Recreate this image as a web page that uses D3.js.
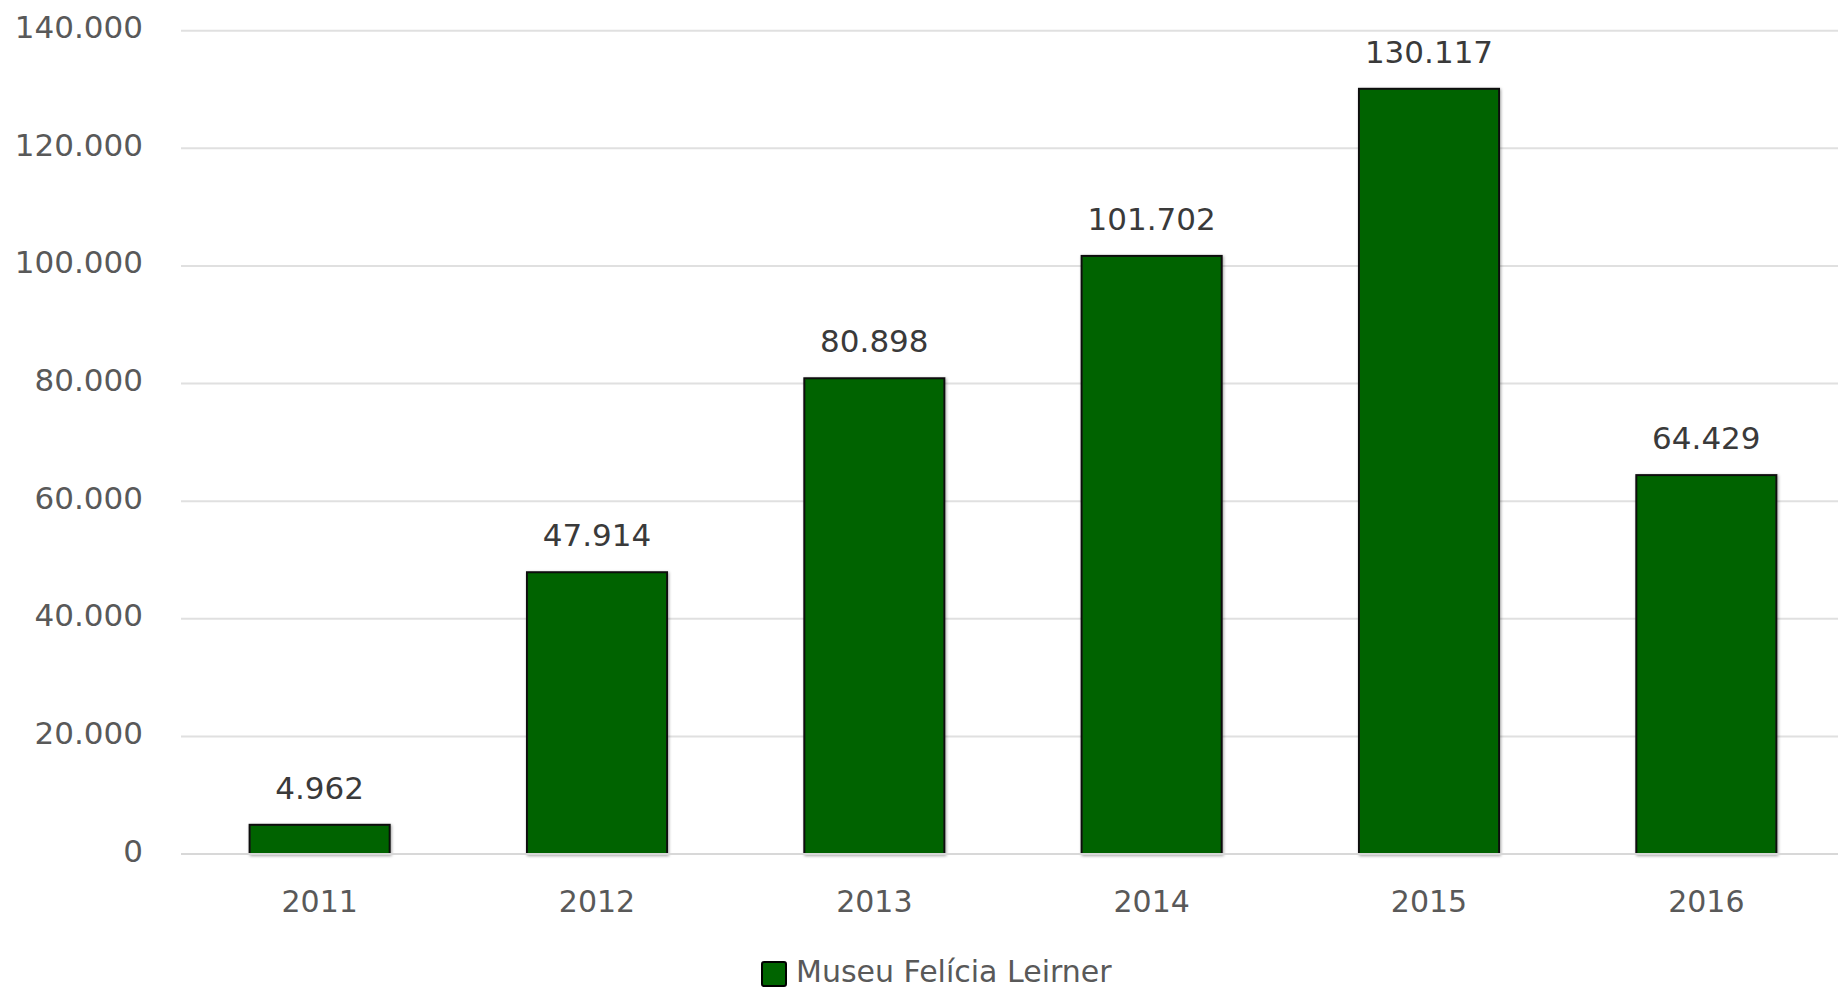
<!DOCTYPE html>
<html>
<head>
<meta charset="utf-8">
<script src="https://cdn.jsdelivr.net/npm/d3@7"></script>
<style>
  body { margin: 0; background: #fff; }
  text { font-family: "DejaVu Sans", sans-serif; }
</style>
</head>
<body>
<div id="chart"></div>
<script>
const svgWidth = 1838;
const svgHeight = 990;

// data
const years = ["2011", "2012", "2013", "2014", "2015", "2016"];
const visitors = [4962, 47914, 80898, 101702, 130117, 64429];
const yTicks = [0, 20000, 40000, 60000, 80000, 100000, 120000, 140000];
const seriesName = "Museu Felícia Leirner";

const plot = { left: 181, right: 1845, top: 30.7, bottom: 854 };

const fmt = v => d3.format(",")(v).replace(/,/g, ".");

const svg = d3.select("#chart")
  .append("svg")
  .attr("width", svgWidth)
  .attr("height", svgHeight);

// soft shadow like the original
const defs = svg.append("defs");
const shadow = defs.append("filter")
  .attr("id", "shadow")
  .attr("x", "-10%").attr("y", "-10%")
  .attr("width", "130%").attr("height", "130%");
shadow.append("feDropShadow")
  .attr("dx", 1).attr("dy", 1)
  .attr("stdDeviation", 1.5)
  .attr("flood-color", "#000")
  .attr("flood-opacity", 0.35);

const x = d3.scaleBand()
  .domain(years)
  .range([plot.left, plot.right])
  .paddingInner(0.495)
  .paddingOuter(0.2475);

const y = d3.scaleLinear()
  .domain([0, 140000])
  .range([plot.bottom, plot.top]);

// gridlines
svg.append("g")
  .selectAll("line")
  .data(yTicks.filter(d => d > 0))
  .enter()
  .append("line")
  .attr("x1", plot.left)
  .attr("x2", svgWidth)
  .attr("y1", d => y(d))
  .attr("y2", d => y(d))
  .attr("stroke", "#e0e0e0")
  .attr("stroke-width", 2);

// y axis labels
const yAxis = svg.append("g")
  .attr("transform", `translate(${plot.left}, 0)`)
  .call(d3.axisLeft(y).tickValues(yTicks).tickFormat(fmt).tickSize(0).tickPadding(38));
yAxis.select(".domain").remove();
yAxis.selectAll("text")
  .attr("font-family", "DejaVu Sans")
  .attr("font-size", 31)
  .attr("fill", "#595959")
  .attr("dy", "7px");

// bars
svg.append("g")
  .selectAll("rect")
  .data(visitors)
  .enter()
  .append("rect")
  .attr("x", (d, i) => x(years[i]))
  .attr("y", d => y(d))
  .attr("width", x.bandwidth())
  .attr("height", d => y(0) - y(d))
  .attr("fill", "#006400")
  .attr("stroke", "#111")
  .attr("stroke-width", 2)
  .attr("filter", "url(#shadow)");

// x axis baseline + labels
const xAxis = svg.append("g")
  .attr("transform", `translate(0, ${plot.bottom})`)
  .call(d3.axisBottom(x).tickSize(0).tickPadding(37));
xAxis.select(".domain")
  .attr("d", `M${plot.left},0H${svgWidth}`)
  .attr("stroke", "#d8d8d8")
  .attr("stroke-width", 2);
xAxis.selectAll("text")
  .attr("font-family", "DejaVu Sans")
  .attr("font-size", 30)
  .attr("fill", "#595959");

// value labels
svg.append("g")
  .selectAll("text")
  .data(visitors)
  .enter()
  .append("text")
  .attr("x", (d, i) => x(years[i]) + x.bandwidth() / 2)
  .attr("y", d => y(d) - 26)
  .attr("text-anchor", "middle")
  .attr("font-size", 31)
  .attr("fill", "#3a3a3a")
  .text(d => fmt(d));

// legend
const legend = svg.append("g");
legend.append("rect")
  .attr("x", 762)
  .attr("y", 962)
  .attr("width", 24)
  .attr("height", 24)
  .attr("rx", 2)
  .attr("fill", "#006400")
  .attr("stroke", "#000")
  .attr("stroke-width", 2);
legend.append("text")
  .attr("x", 796)
  .attr("y", 982)
  .attr("font-size", 30)
  .attr("fill", "#595959")
  .text(seriesName);
</script>
</body>
</html>
